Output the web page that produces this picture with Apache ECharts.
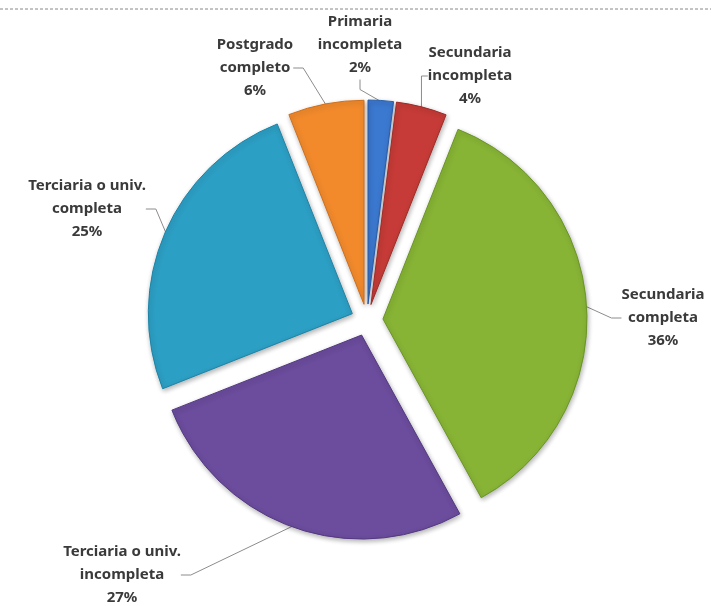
<!DOCTYPE html>
<html>
<head>
<meta charset="utf-8">
<script src="https://cdn.jsdelivr.net/npm/echarts@6/dist/echarts.min.js"></script>
<style>
html,body{margin:0;padding:0;background:#fff;}
#c{width:711px;height:606px;}
</style>
</head>
<body>
<div id="c"></div>
<script>
var categories = [
  'Primaria\nincompleta',
  'Secundaria\nincompleta',
  'Secundaria\ncompleta',
  'Terciaria o univ.\nincompleta',
  'Terciaria o univ.\ncompleta',
  'Postgrado\ncompleto'
];
var values = [2, 4, 36, 27, 25, 6];
var colors = ['#3b78cf', '#c63b37', '#87b435', '#6b4c9d', '#2c9fc4', '#f28a2c'];
var edgeColors = ['#2a5fae', '#9e2a27', '#6a9424', '#533882', '#1d83a6', '#d06d18'];
// label block centres (layout only)
var labelPos = [[360, 45], [470, 76], [663, 318], [122, 575], [87, 209], [255, 68]];

var chart = echarts.init(document.getElementById('c'));

var sliceData = values.map(function (v, i) {
  return {
    name: categories[i],
    value: v,
    selected: true,
    itemStyle: {color: colors[i], borderColor: edgeColors[i], borderWidth: 1}
  };
});
var labelData = values.map(function (v, i) {
  return {name: categories[i], value: v};
});

chart.setOption({
  animation: false,
  graphic: [{
    type: 'line',
    z: 100,
    shape: {x1: 0, y1: 9, x2: 711, y2: 9},
    style: {stroke: '#888888', lineWidth: 1, lineDash: [3, 2]}
  }],
  series: [{
    type: 'pie',
    center: [367, 320],
    radius: [0, 204],
    startAngle: 90,
    clockwise: true,
    selectedMode: 'multiple',
    selectedOffset: 16,
    silent: true,
    emphasis: {disabled: true},
    data: sliceData,
    itemStyle: {
      shadowBlur: 5,
      shadowColor: 'rgba(0,0,0,0.3)',
      shadowOffsetX: 1,
      shadowOffsetY: 2
    },
    label: {show: false},
    labelLine: {show: false}
  }, {
    type: 'pie',
    center: [367, 320],
    radius: [0, 219],
    startAngle: 90,
    clockwise: true,
    silent: true,
    emphasis: {disabled: true},
    data: labelData,
    itemStyle: {color: 'rgba(0,0,0,0)'},
    label: {
      show: true,
      position: 'outside',
      formatter: function (p) { return p.name + '\n' + p.value + '%'; },
      fontFamily: 'Noto Sans',
      fontWeight: 'bold',
      fontSize: 15,
      lineHeight: 23,
      color: '#3a3a3a',
      align: 'center'
    },
    labelLine: {
      show: true,
      length: 15,
      length2: 10,
      lineStyle: {color: '#8c8c8c', width: 1}
    },
    labelLayout: function (params) {
      var p = labelPos[params.dataIndex];
      return {x: p[0], y: p[1], align: 'center', verticalAlign: 'middle'};
    }
  }]
});
</script>
</body>
</html>
